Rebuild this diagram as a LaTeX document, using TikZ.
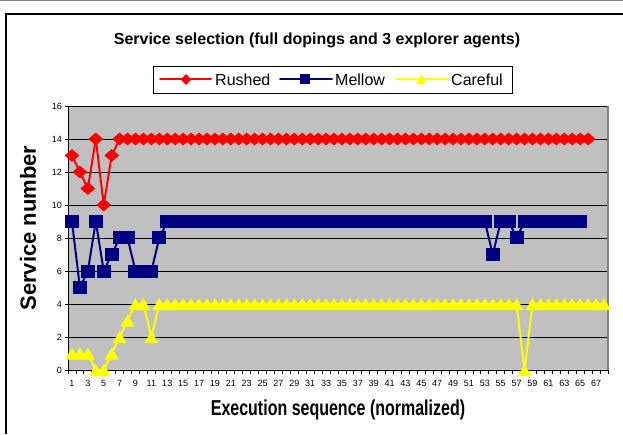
\documentclass[tikz,border=0pt]{standalone}
\usepackage{fontspec}
\setmainfont{Liberation Sans}
\usepackage{xcolor}
\definecolor{rushedRed}{HTML}{FF0000}
\definecolor{mellowNavy}{HTML}{000080}
\definecolor{carefulYellow}{HTML}{FFFF00}
\definecolor{plotGray}{HTML}{C0C0C0}
\definecolor{frameGray}{HTML}{808080}
\usepackage{tikz}
\usetikzlibrary{
    shapes.geometric,
    positioning
}

% service number picked at each step of the execution sequence
\newcommand{\rusheddata}{13,12,11,14,10,13,14,14,14,14,14,14,14,14,14,14,14,14,14,14,14,14,14,14,14,14,14,14,14,14,14,14,14,14,14,14,14,14,14,14,14,14,14,14,14,14,14,14,14,14,14,14,14,14,14,14,14,14,14,14,14,14,14,14,14,14}
\newcommand{\mellowdata}{9,5,6,9,6,7,8,8,6,6,6,8,9,9,9,9,9,9,9,9,9,9,9,9,9,9,9,9,9,9,9,9,9,9,9,9,9,9,9,9,9,9,9,9,9,9,9,9,9,9,9,9,9,7,9,9,8,9,9,9,9,9,9,9,9}
\newcommand{\carefuldata}{1,1,1,0,0,1,2,3,4,4,2,4,4,4,4,4,4,4,4,4,4,4,4,4,4,4,4,4,4,4,4,4,4,4,4,4,4,4,4,4,4,4,4,4,4,4,4,4,4,4,4,4,4,4,4,4,4,0,4,4,4,4,4,4,4,4,4,4}

\tikzset{
    % Titles
    chart title/.style={font=\fontsize{16}{19}\selectfont\bfseries},
    axis title/.style={font=\fontsize{16}{19}\selectfont\bfseries},
    % Tick labels
    tick label/.style={font=\fontsize{9}{10}\selectfont, inner sep=0pt},
    legend text/.style={font=\fontsize{16}{19}\selectfont, anchor=west, inner sep=0pt},
    % Series lines
    series line/.style={line width=2pt, line cap=round, line join=round},
    rushed line/.style={series line, draw=rushedRed},
    mellow line/.style={series line, draw=mellowNavy},
    careful line/.style={series line, draw=carefulYellow},
    % Series markers
    rushed mark/.style={diamond, fill=rushedRed, inner sep=0pt,
        minimum width=15pt, minimum height=13pt},
    mellow mark/.style={rectangle, fill=mellowNavy, inner sep=0pt,
        minimum width=14pt, minimum height=13pt},
    careful mark/.style={regular polygon, regular polygon sides=3,
        fill=carefulYellow, inner sep=0pt, minimum size=16pt, yshift=-2pt},
}

\begin{document}
\begin{tikzpicture}[x=1pt, y=1pt]
    \useasboundingbox (0,0) rectangle (623,434);
    % chart frame
    \draw[frameGray] (0,433.5) -- (623,433.5);
    \draw[line width=1.5pt] (6,0) -- (6,420) -- (623,420);

    \node (title) [chart title] at (317,394) {Service selection (full dopings and 3 explorer agents)};

    % legend
    \node (legend) [draw, fill=white, minimum width=359pt, minimum height=27pt, inner sep=0pt] at (332.5,354.5) {};
    \draw[rushed line] (160,354.5) -- (211,354.5);
    \node (lgrushed) [rushed mark, minimum width=11pt, minimum height=11pt] at (186,354.5) {};
    \node (txtrushed) [legend text] at (215,354.5) {Rushed};
    \draw[mellow line] (280,354.5) -- (332,354.5);
    \node (lgmellow) [mellow mark, minimum width=10pt, minimum height=10pt] at (305,354.5) {};
    \node (txtmellow) [legend text] at (335,354.5) {Mellow};
    \draw[careful line] (396,354.5) -- (448,354.5);
    \node (lgcareful) [careful mark, minimum size=13pt, yshift=0.5pt] at (421,354.5) {};
    \node (txtcareful) [legend text] at (451,354.5) {Careful};

    \node (ytitle) [axis title, font=\fontsize{22}{26}\selectfont\bfseries, rotate=90] at (28,206) {Service number};
    \node (xtitle) [axis title, yscale=1.35, transform shape] at (338,24) {Execution sequence (normalized)};

    % plot area: one unit per category, one unit per service number
    \begin{scope}[shift={(68,64)}, x=7.94pt, y=16.5pt]
        \fill[plotGray] (0,0) rectangle (68,16);
        \foreach \v in {2,4,...,16}
            \draw[black, line width=0.8pt] (0,\v) -- (68,\v);
        \draw[frameGray, line width=1.5pt] (68,0) -- (68,16);
        % axes
        \draw[black, line width=0.8pt] (0,16) -- (0,0) -- (68,0);
        \foreach \v in {0,2,...,16} {
            \draw[black, line width=0.8pt] (0,\v) -- ++(-3pt,0);
            \node (ytick\v) [tick label, anchor=east] at ([xshift=-6pt]0,\v) {\v};
        }
        \foreach \i in {0,...,68}
            \draw[black, line width=0.8pt] (\i,0) -- ++(0,-3.5pt);
        \foreach \i in {1,3,...,67}
            \node (xtick\i) [tick label] at ([yshift=-13pt]\i-0.5,0) {\i};

        % series
        \foreach \v [count=\i, remember=\v as \last (initially 0)] in \rusheddata
            {\ifnum\i>1 \draw[rushed line] (\i-1.5,\last) -- (\i-0.5,\v);\fi}
        \foreach \v [count=\i] in \rusheddata
            \node (r\i) [rushed mark] at (\i-0.5,\v) {};
        \foreach \v [count=\i, remember=\v as \last (initially 0)] in \mellowdata
            {\ifnum\i>1 \draw[mellow line] (\i-1.5,\last) -- (\i-0.5,\v);\fi}
        \foreach \v [count=\i] in \mellowdata
            \node (m\i) [mellow mark] at (\i-0.5,\v) {};
        \foreach \v [count=\i, remember=\v as \last (initially 0)] in \carefuldata
            {\ifnum\i>1 \draw[careful line] (\i-1.5,\last) -- (\i-0.5,\v);\fi}
        \foreach \v [count=\i] in \carefuldata
            \node (c\i) [careful mark] at (\i-0.5,\v) {};
    \end{scope}
\end{tikzpicture}
\end{document}
